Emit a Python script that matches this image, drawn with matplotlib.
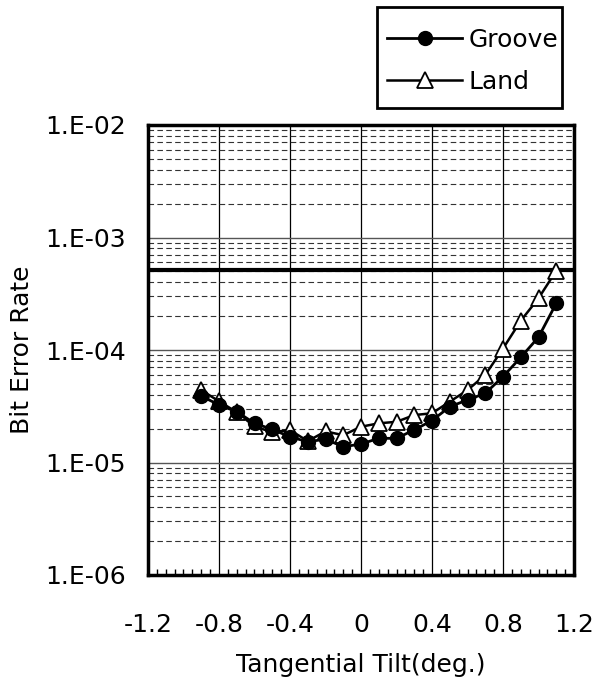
import matplotlib.pyplot as plt
import matplotlib as mpl
import numpy as np
from matplotlib.patches import Rectangle
from matplotlib.ticker import FixedLocator, MultipleLocator, NullFormatter

mpl.rcParams['font.family'] = ['DejaVu Sans']

# tilt positions and measured bit error rates
tilt = [-0.9, -0.8, -0.7, -0.6, -0.5, -0.4, -0.3, -0.2, -0.1, 0.0, 0.1,
        0.2, 0.3, 0.4, 0.5, 0.6, 0.7, 0.8, 0.9, 1.0, 1.1]
groove = [3.9e-5, 3.25e-5, 2.83e-5, 2.23e-5, 1.97e-5, 1.69e-5, 1.53e-5,
          1.61e-5, 1.38e-5, 1.46e-5, 1.64e-5, 1.64e-5, 1.95e-5, 2.36e-5,
          3.13e-5, 3.6e-5, 4.12e-5, 5.8e-5, 8.6e-5, 1.30e-4, 2.6e-4]
land = [4.4e-5, 3.5e-5, 2.8e-5, 2.09e-5, 1.86e-5, 1.94e-5, 1.55e-5,
        1.89e-5, 1.75e-5, 2.08e-5, 2.23e-5, 2.3e-5, 2.64e-5, 2.74e-5,
        3.47e-5, 4.4e-5, 6.0e-5, 1.03e-4, 1.82e-4, 2.88e-4, 5.07e-4]
ber_limit = 5.1e-4

xticks = [-1.2, -0.8, -0.4, 0, 0.4, 0.8, 1.2]
xticklabels = ['-1.2', '-0.8', '-0.4', '0', '0.4', '0.8', '1.2']
yticks = [1e-6, 1e-5, 1e-4, 1e-3, 1e-2]
yticklabels = ['1.E-06', '1.E-05', '1.E-04', '1.E-03', '1.E-02']

W, H = 595, 687
fig = plt.figure(figsize=(W/100, H/100), dpi=100)
ax = fig.add_axes([148/W, 1-575/H, 426/W, 450/H])

ax.set_yscale('log')
ax.set_xlim(-1.2, 1.2)
ax.set_ylim(1e-6, 1e-2)

# grid: solid verticals, solid decades, dashed minor decades
for xv in [-0.8, -0.4, 0, 0.4, 0.8]:
    ax.axvline(xv, color='black', lw=0.9, zorder=1)
for yv in yticks[1:-1]:
    ax.axhline(yv, color='#555555', lw=1.0, zorder=1)
for dec in [1e-6, 1e-5, 1e-4, 1e-3]:
    for m in range(2, 10):
        ax.axhline(dec*m, color='#333333', lw=0.8, ls=(0, (5, 3)), zorder=1)

ax.axhline(ber_limit, color='black', lw=3, zorder=2)

ax.plot(tilt, groove, color='black', lw=2, marker='o', ms=10,
        mfc='black', mec='black', label='Groove', zorder=4)
ax.plot(tilt, land, color='black', lw=1.8, marker='^', ms=11,
        mfc='white', mec='black', mew=1.3, label='Land', zorder=3)

ax.set_xticks(xticks)
ax.set_xticklabels(xticklabels)
ax.xaxis.set_minor_locator(MultipleLocator(0.05))
ax.yaxis.set_major_locator(FixedLocator(yticks))
ax.set_yticklabels(yticklabels)
ax.yaxis.set_minor_formatter(NullFormatter())
ax.tick_params(axis='x', which='major', length=0, labelsize=18, pad=27)
ax.tick_params(axis='x', which='minor', direction='in', length=4, width=1)
ax.tick_params(axis='y', which='both', length=0, labelsize=18, pad=16)

for sp in ax.spines.values():
    sp.set_linewidth(2.5)
    sp.set_zorder(5)

ax.set_xlabel('Tangential Tilt(deg.)', fontsize=18, labelpad=12)
ax.set_ylabel('Bit Error Rate', fontsize=18, labelpad=8)

# legend above the plot, with its own square box
ax.legend(loc='upper left', bbox_to_anchor=(387/W, 1-28/H),
          bbox_transform=fig.transFigure, fontsize=18, frameon=False,
          handlelength=3.0, handletextpad=0.25, labelspacing=0.72,
          borderpad=0, borderaxespad=0)
fig.patches.append(Rectangle((377/W, 1-108/H), 185/W, 101/H,
                             transform=fig.transFigure, fill=False,
                             edgecolor='black', lw=2))

fig.savefig('out.png', dpi=100)
